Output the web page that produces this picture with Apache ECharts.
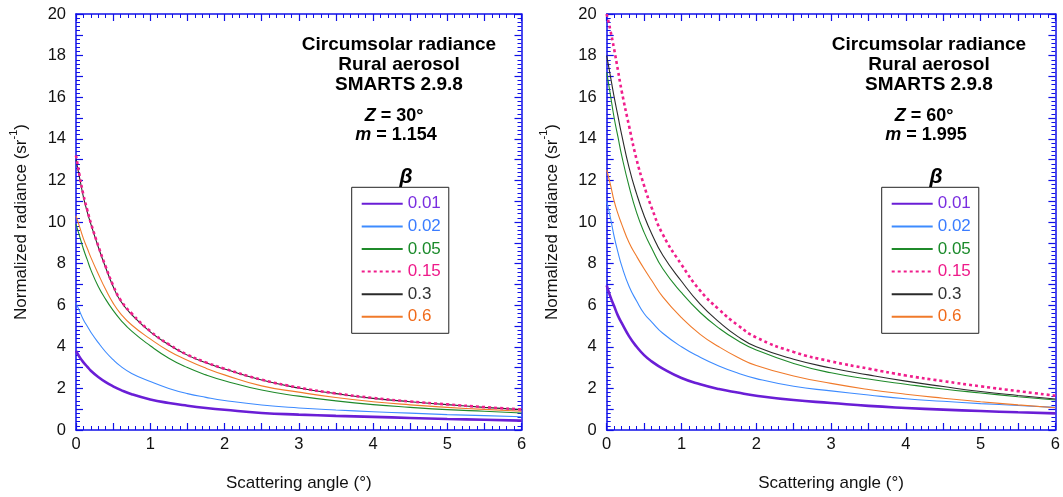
<!DOCTYPE html>
<html>
<head>
<meta charset="utf-8">
<script src="https://cdn.jsdelivr.net/npm/echarts@6/dist/echarts.min.js"></script>
<style>
  html, body { margin: 0; padding: 0; background: #fff; }
  #chart { width: 1063px; height: 497px; }
</style>
</head>
<body>
<div id="chart"></div>
<script>
// Scattering angles (degrees) at which the radiance is sampled
const angles = [0, 0.05, 0.1, 0.15, 0.2, 0.3, 0.4, 0.5, 0.6, 0.75, 1, 1.25, 1.5, 1.75, 2, 2.5, 3, 3.5, 4, 4.5, 5, 5.5, 6];

// Turbidity coefficients (beta) shown in the legends
const betaLabels = ['0.01', '0.02', '0.05', '0.15', '0.3', '0.6'];

// Normalized circumsolar radiance (sr^-1), Z = 30 deg, m = 1.154
const z30_b001 = [3.8, 3.5, 3.25, 3.05, 2.85, 2.55, 2.3, 2.1, 1.93, 1.72, 1.47, 1.3, 1.17, 1.06, 0.97, 0.82, 0.74, 0.68, 0.63, 0.58, 0.53, 0.49, 0.45];
const z30_b002 = [6.1, 5.7, 5.3, 5.0, 4.7, 4.2, 3.75, 3.38, 3.07, 2.72, 2.33, 2.0, 1.75, 1.57, 1.42, 1.2, 1.06, 0.96, 0.88, 0.81, 0.74, 0.69, 0.64];
const z30_b005 = [9.9, 9.3, 8.7, 8.2, 7.7, 6.9, 6.28, 5.75, 5.3, 4.75, 4.05, 3.45, 3.0, 2.65, 2.37, 1.92, 1.63, 1.4, 1.22, 1.09, 0.98, 0.9, 0.82];
const z30_b015 = [13.2, 12.2, 11.3, 10.6, 9.95, 8.85, 7.85, 6.95, 6.25, 5.6, 4.75, 4.12, 3.62, 3.25, 2.95, 2.42, 2.04, 1.76, 1.54, 1.37, 1.23, 1.1, 0.99];
const z30_b030 = [13.0, 12.1, 11.2, 10.5, 9.9, 8.8, 7.8, 6.9, 6.2, 5.55, 4.72, 4.1, 3.6, 3.23, 2.93, 2.4, 2.02, 1.75, 1.52, 1.36, 1.22, 1.09, 0.98];
const z30_b060 = [10.3, 9.75, 9.2, 8.75, 8.3, 7.5, 6.75, 6.1, 5.6, 5.05, 4.38, 3.8, 3.35, 2.97, 2.65, 2.12, 1.82, 1.56, 1.36, 1.21, 1.09, 0.99, 0.9];

// Normalized circumsolar radiance (sr^-1), Z = 60 deg, m = 1.995
const z60_b001 = [6.95, 6.4, 5.95, 5.5, 5.15, 4.5, 4.0, 3.6, 3.3, 2.95, 2.5, 2.2, 1.97, 1.8, 1.65, 1.44, 1.3, 1.16, 1.06, 0.98, 0.91, 0.85, 0.8];
const z60_b002 = [11.0, 10.2, 9.3, 8.55, 7.9, 6.9, 6.2, 5.6, 5.2, 4.65, 4.0, 3.5, 3.08, 2.74, 2.47, 2.1, 1.88, 1.68, 1.5, 1.38, 1.27, 1.18, 1.09];
const z60_b005 = [17.2, 16.1, 15.0, 14.1, 13.2, 11.7, 10.45, 9.5, 8.75, 7.75, 6.6, 5.65, 4.9, 4.3, 3.85, 3.2, 2.75, 2.45, 2.2, 1.97, 1.78, 1.6, 1.44];
const z60_b015 = [20.0, 19.2, 18.3, 17.3, 16.3, 14.6, 13.0, 11.75, 10.7, 9.4, 7.95, 6.7, 5.8, 5.05, 4.45, 3.75, 3.3, 2.95, 2.62, 2.35, 2.1, 1.87, 1.65];
const z60_b030 = [18.0, 17.0, 16.0, 15.1, 14.2, 12.6, 11.35, 10.3, 9.45, 8.4, 7.15, 6.05, 5.2, 4.5, 4.0, 3.4, 2.98, 2.65, 2.35, 2.09, 1.85, 1.66, 1.49];
const z60_b060 = [12.5, 11.8, 11.0, 10.4, 9.9, 9.0, 8.35, 7.75, 7.2, 6.4, 5.4, 4.6, 4.0, 3.5, 3.1, 2.6, 2.24, 1.95, 1.72, 1.53, 1.36, 1.21, 1.07];

// Axis tick values
const xTicks = [0, 1, 2, 3, 4, 5, 6];
const yTicks = [0, 2, 4, 6, 8, 10, 12, 14, 16, 18, 20];

const panels = [
  { zenith: '30°', airmass: '1.154', curves: [z30_b001, z30_b002, z30_b005, z30_b015, z30_b030, z30_b060] },
  { zenith: '60°', airmass: '1.995', curves: [z60_b001, z60_b002, z60_b005, z60_b015, z60_b030, z60_b060] }
];

const FONT = "'Liberation Sans', Arial, Helvetica, sans-serif";
const AX = '#1010e8';
const lineColors  = ['#6a1ed6', '#3d8bff', '#1f8a2a', '#f01e8c', '#2a2a2a', '#f07a2a'];
const labelColors = ['#7a2ee0', '#3a7cff', '#1a8a2a', '#ee1a8a', '#333333', '#f06a1a'];
const lineWidths  = [2.6, 1.1, 1.1, 2.6, 1.1, 1.1];

const grids = [
  { left: 76, top: 14, width: 445.5, height: 417 },
  { left: 606.7, top: 14, width: 451, height: 417 }
];
// horizontal centres of the annotation blocks in each panel
const annoX = [399, 929];
const boxLeft = [351.7, 881.7];

function xAxis(g, pos) {
  const bottom = pos === 'bottom';
  return {
    type: 'value', gridIndex: g, position: pos, min: 0, max: 6, interval: 0.5,
    axisLine: { show: true, onZero: false, lineStyle: { color: AX, width: 1.5 } },
    axisTick: { show: true, inside: true, length: 7, lineStyle: { color: AX, width: 1.2 } },
    minorTick: { show: true, splitNumber: 5, length: 4, lineStyle: { color: AX, width: 1 } },
    splitLine: { show: false },
    axisLabel: {
      show: bottom, margin: 6, color: '#111', fontSize: 16.5, fontFamily: FONT,
      formatter: v => (xTicks.indexOf(v) >= 0 ? String(v) : '')
    },
    name: bottom ? 'Scattering angle (°)' : '',
    nameLocation: 'middle', nameGap: 45,
    nameTextStyle: { color: '#111', fontSize: 17, fontFamily: FONT }
  };
}

function yAxis(g, pos) {
  const left = pos === 'left';
  return {
    type: 'value', gridIndex: g, position: pos, min: 0, max: 20, interval: 1,
    axisLine: { show: true, onZero: false, lineStyle: { color: AX, width: 1.5 } },
    axisTick: { show: true, inside: true, length: 7, lineStyle: { color: AX, width: 1.2 } },
    minorTick: { show: true, splitNumber: 5, length: 4, lineStyle: { color: AX, width: 1 } },
    splitLine: { show: false },
    axisLabel: {
      show: left, margin: 10, color: '#111', fontSize: 16.5, fontFamily: FONT,
      formatter: v => (yTicks.indexOf(v) >= 0 ? String(v) : '')
    },
    name: left ? '{a|Normalized radiance (sr}{s|-1}{a|)}' : '',
    nameLocation: 'middle', nameGap: 46, nameRotate: 90,
    nameTextStyle: {
      color: '#111', fontFamily: FONT,
      rich: {
        a: { fontSize: 17, fontFamily: FONT, color: '#111', lineHeight: 22, verticalAlign: 'bottom' },
        s: { fontSize: 11, fontFamily: FONT, color: '#111', lineHeight: 22, verticalAlign: 'top' }
      }
    }
  };
}

const xAxes = [], yAxes = [], series = [], legends = [], graphics = [];

panels.forEach((p, g) => {
  xAxes.push(xAxis(g, 'bottom'), xAxis(g, 'top'));
  yAxes.push(yAxis(g, 'left'), yAxis(g, 'right'));

  p.curves.forEach((vals, i) => {
    series.push({
      type: 'line',
      name: betaLabels[i],
      xAxisIndex: 2 * g, yAxisIndex: 2 * g,
      data: angles.map((a, k) => [a, vals[k]]),
      symbol: 'none', showSymbol: false,
      smooth: 0.5,
      lineStyle: {
        color: lineColors[i], width: lineWidths[i],
        type: i === 3 ? [3, 3] : 'solid'
      },
      itemStyle: { color: lineColors[i] },
      z: i === 3 ? 4 : 3,
      silent: true
    });
  });

  legends.push({
    orient: 'vertical', left: boxLeft[g], top: 187.3,
    itemWidth: 41, itemHeight: 14, itemGap: 5.6,
    padding: [8, 8, 8, 9],
    borderColor: '#222', borderWidth: 1, backgroundColor: '#fff',
    selectedMode: false,
    itemStyle: { opacity: 0 },
    textStyle: { fontSize: 17, fontFamily: FONT },
    data: betaLabels.map((b, i) => ({ name: b, textStyle: { color: labelColors[i] } }))
  });

  graphics.push(
    {
      type: 'text', x: annoX[g], y: 35,
      style: {
        text: 'Circumsolar radiance\nRural aerosol\nSMARTS 2.9.8',
        align: 'center', verticalAlign: 'top',
        font: "bold 19px " + FONT, lineHeight: 20, fill: '#000'
      }
    },
    {
      type: 'text', x: annoX[g] - 5, y: 116,
      style: {
        text: '{i|Z} = ' + p.zenith,
        align: 'center', verticalAlign: 'middle',
        font: "bold 18px " + FONT, fill: '#000',
        rich: { i: { font: "italic bold 18px " + FONT, fill: '#000' } }
      }
    },
    {
      type: 'text', x: annoX[g] - 3, y: 135,
      style: {
        text: '{i|m} = ' + p.airmass,
        align: 'center', verticalAlign: 'middle',
        font: "bold 18px " + FONT, fill: '#000',
        rich: { i: { font: "italic bold 18px " + FONT, fill: '#000' } }
      }
    },
    {
      type: 'text', x: annoX[g] + 7, y: 177,
      style: {
        text: 'β', align: 'center', verticalAlign: 'middle',
        font: "italic bold 21px " + FONT, fill: '#000'
      }
    }
  );
});

const chart = echarts.init(document.getElementById('chart'), null, { renderer: 'canvas' });
chart.setOption({
  animation: false,
  backgroundColor: '#fff',
  grid: grids,
  xAxis: xAxes,
  yAxis: yAxes,
  legend: legends,
  series: series,
  graphic: graphics
});
</script>
</body>
</html>
